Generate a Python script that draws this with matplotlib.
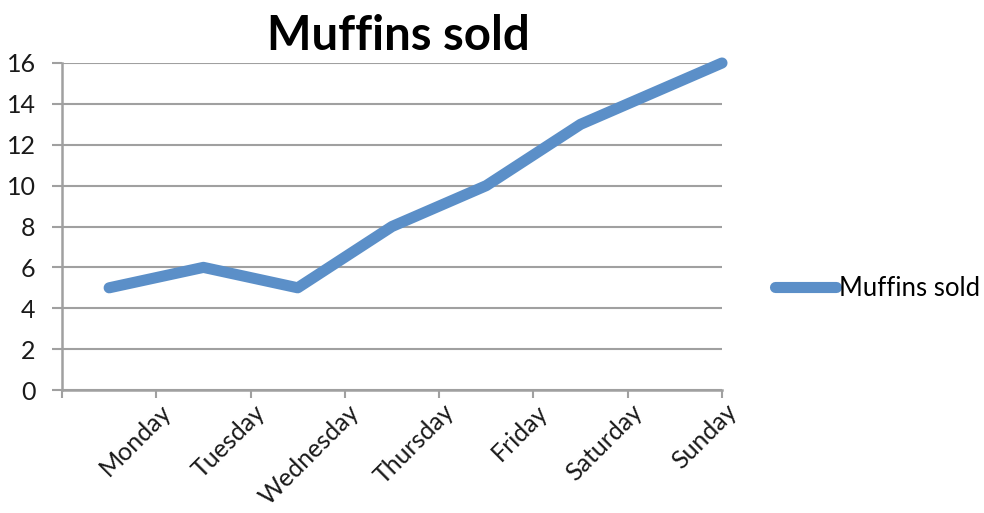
import numpy as np
import matplotlib
matplotlib.use("Agg")
import matplotlib.pyplot as plt

days = ["Monday", "Tuesday", "Wednesday", "Thursday", "Friday", "Saturday", "Sunday"]
muffins = [5, 6, 5, 8, 10, 13, 16]
# the last point sits on the right edge of the axis in the original picture
day_pos = [0, 1, 2, 3, 4, 5, 6.5]
y_ticks = [0, 2, 4, 6, 8, 10, 12, 14, 16]

plt.rcParams['font.family'] = ['Lato', 'DejaVu Sans']

fig = plt.figure(figsize=(9.84, 5.13), dpi=100)
ax = fig.add_axes([62 / 984, 1 - 390 / 513, 660 / 984, 327 / 513])

grid_col = '#a0a0a0'
line_col = '#5b8fc8'

ax.plot(day_pos, muffins, color=line_col, linewidth=8,
        solid_capstyle='round', solid_joinstyle='round', label='Muffins sold',
        zorder=3, clip_on=False)

ax.set_xlim(-0.5, 6.5)
ax.set_ylim(0, 16)
ax.set_yticks(y_ticks)
ax.yaxis.grid(True, color=grid_col, linewidth=1.5)
ax.set_axisbelow(True)

# tick marks on category boundaries, labels placed just left of each boundary
bounds = np.arange(-0.5, 7, 1)
ax.set_xticks(bounds)
ax.set_xticklabels([''] * len(bounds))
for i, d in enumerate(days):
    ax.text(i + 0.5 + 0.03, -0.5, d, rotation=45, ha='right', va='top',
            rotation_mode='anchor', fontsize=18, color='#1a1a1a')

ax.tick_params(axis='x', direction='out', length=6, width=1.5, color=grid_col)
ax.tick_params(axis='y', direction='out', length=7, width=1.5, color=grid_col,
               labelsize=18, pad=12, labelcolor='#1a1a1a')

for s in ['top', 'right']:
    ax.spines[s].set_visible(False)
for s in ['left', 'bottom']:
    ax.spines[s].set_color(grid_col)
    ax.spines[s].set_linewidth(1.8)

fig.text(398 / 984, 1 - 36 / 513, 'Muffins sold', ha='center', va='center',
         fontsize=34, fontweight='bold')

leg = ax.legend(loc='center left', bbox_to_anchor=(1.045, 0.31), frameon=False,
                fontsize=18.5, handlelength=2.4, handletextpad=0.1)

fig.savefig('out.png', dpi=100)
